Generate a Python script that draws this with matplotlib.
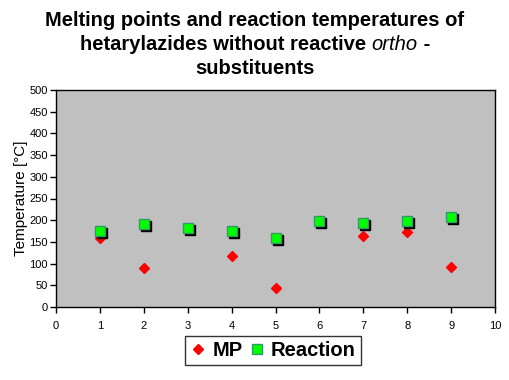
import matplotlib
matplotlib.use("Agg")
import matplotlib.pyplot as plt
import matplotlib.transforms as mtransforms
import numpy as np

plt.rcParams['font.family'] = ['Liberation Sans', 'DejaVu Sans']

compounds = [1, 2, 3, 4, 5, 6, 7, 8, 9]
mp = [160, 89, np.nan, 118, 43, np.nan, 163, 173, 92]
reaction = [176, 192, 181, 176, 158, 199, 193, 199, 208]
yticks = [0, 50, 100, 150, 200, 250, 300, 350, 400, 450, 500]
xticks = [0, 1, 2, 3, 4, 5, 6, 7, 8, 9, 10]

W, H = 509, 380
fig = plt.figure(figsize=(W / 100, H / 100), dpi=100)
ax = fig.add_axes([56 / W, 1 - 307 / H, (495 - 56) / W, (307 - 90) / H])
ax.set_facecolor('#C0C0C0')

ax.plot(compounds, mp, linestyle='none', marker='D', markersize=5.2,
        color='#FF0000', markeredgecolor='#FF0000', zorder=3, label='MP')
shadow = mtransforms.offset_copy(ax.transData, fig=fig, x=2, y=-2, units='dots')
ax.plot(compounds, reaction, linestyle='none', marker='s', markersize=7.8,
        color='black', markeredgecolor='black', transform=shadow, zorder=4)
ax.plot(compounds, reaction, linestyle='none', marker='s', markersize=7.8,
        color='#00FF00', markeredgecolor='#339966', markeredgewidth=1.0,
        zorder=5, label='Reaction')

ax.set_xlim(0, 10)
ax.set_ylim(0, 500)
ax.set_xticks(xticks)
ax.set_yticks(yticks)
ax.tick_params(axis='both', direction='out', length=4, width=1, colors='black',
               labelsize=8)
ax.tick_params(axis='x', pad=6)
ax.tick_params(axis='y', pad=2)
for s in ax.spines.values():
    s.set_color('black')
    s.set_linewidth(1)
ax.set_ylabel('Temperature [°C]', fontsize=11)
ax.yaxis.set_label_coords((28 - 56) / (495 - 56), 0.5)

leg = ax.legend(loc='upper center', bbox_to_anchor=(0.5 - 0.006, -0.135), ncol=2,
                frameon=True, fancybox=False, edgecolor='black',
                prop={'weight': 'bold', 'size': 14.5}, handlelength=0.8,
                handletextpad=0.3, columnspacing=0.3, borderpad=0.25,
                borderaxespad=0)
leg.get_frame().set_linewidth(1)

# title
TS = 14.5
tkw = dict(fontsize=TS, fontweight='bold', ha='center', va='center')
fig.text(255 / W, 1 - 21 / H, 'Melting points and reaction temperatures of', **tkw)
fig.text(255 / W, 1 - 68 / H, 'substituents', **tkw)

fig.canvas.draw()
r = fig.canvas.get_renderer()
y2 = 1 - 45 / H
parts = [('hetarylazides without reactive ', 'bold', 'normal'),
         ('ortho', 'normal', 'italic'),
         (' -', 'bold', 'normal')]
texts = []
for s, w, st in parts:
    t = fig.text(0, y2, s, fontsize=TS, fontweight=w, fontstyle=st,
                 ha='left', va='center')
    texts.append(t)
widths = [t.get_window_extent(renderer=r).width for t in texts]
total = sum(widths)
x0 = 255 - total / 2
for t, wd in zip(texts, widths):
    t.set_x(x0 / W)
    x0 += wd

fig.savefig('out.png', dpi=100, facecolor='white')
